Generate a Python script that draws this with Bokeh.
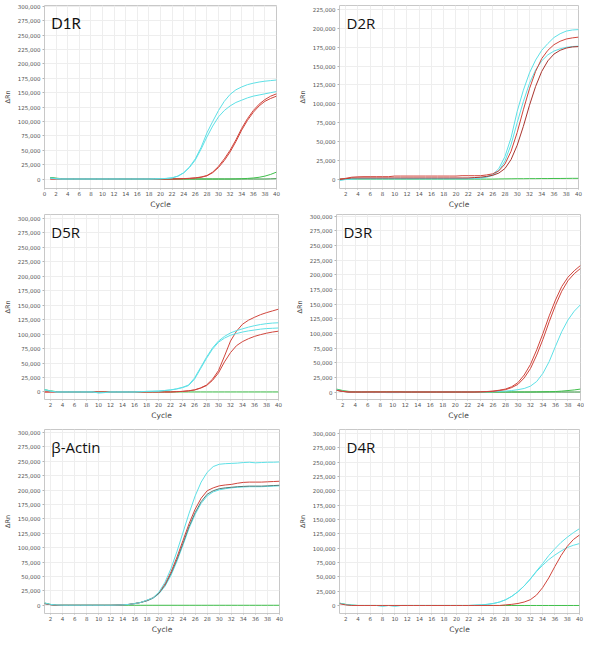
from bokeh.plotting import figure
from bokeh.layouts import column, row
from bokeh.models import Label, Range1d, FixedTicker, NumeralTickFormatter
from bokeh.embed import file_html
from bokeh.resources import INLINE

# ---------------- data ----------------
cycles = [1, 2, 3, 4, 5, 6, 7, 8, 9, 10, 11, 12, 13, 14, 15, 16, 17, 18, 19, 20,
          21, 22, 23, 24, 25, 26, 27, 28, 29, 30, 31, 32, 33, 34, 35, 36, 37, 38, 39, 40]

x_ticks_d1r = [0, 2, 4, 6, 8, 10, 12, 14, 16, 18, 20, 22, 24, 26, 28, 30, 32, 34, 36, 38, 40]
x_ticks = [2, 4, 6, 8, 10, 12, 14, 16, 18, 20, 22, 24, 26, 28, 30, 32, 34, 36, 38, 40]
y_ticks_300 = [0, 25000, 50000, 75000, 100000, 125000, 150000, 175000, 200000, 225000, 250000, 275000, 300000]
y_ticks_225 = [0, 25000, 50000, 75000, 100000, 125000, 150000, 175000, 200000, 225000]

# D1R
d1r_cyan_a = [1500, 500, 0, 0, 0, 0, 0, 0, 0, 0, 0, 0, 0, 0, 0, 0, 0, 0, 200, 500,
              1000, 2000, 5000, 11000, 21000, 35000, 55000, 80000, 100000, 119000,
              135000, 147000, 155000, 160000, 164000, 166500, 168500, 170000, 171000, 172000]
d1r_cyan_b = [1500, 500, 0, 0, 0, 0, 0, 0, 0, 0, 0, 0, 0, 0, 0, 0, 0, 0, 200, 500,
              1000, 2000, 5000, 10500, 20000, 33000, 52000, 73000, 92000, 108000,
              119000, 127000, 133000, 137000, 141000, 144000, 146000, 148000, 150000, 152000]
d1r_red_a = [0, 0, 0, 0, 0, 0, 0, 0, 0, 0, 0, 0, 0, 0, 0, 0, 0, 0, 0, 0,
             0, 0, 300, 700, 1200, 2000, 3500, 6000, 12000, 22000,
             35000, 50000, 68000, 88000, 105000, 119000, 130000, 138000, 144000, 148000]
d1r_red_b = [0, 0, 0, 0, 0, 0, 0, 0, 0, 0, 0, 0, 0, 0, 0, 0, 0, 0, 0, 0,
             0, 0, 300, 600, 1000, 1800, 3000, 5500, 11000, 20000,
             32000, 47000, 65000, 85000, 102000, 116000, 127000, 135000, 140000, 144000]
d1r_green_a = [2000, 1500, 500, 0, 300, 0, 0, 0, 0, 0, 0, 0, 0, 0, 0, 0, 0, 0, 0, 0,
               0, 0, 0, 0, 0, 0, 0, 0, 0, 0, 0, 0, 200, 500, 1000, 1800, 3000, 5000, 8000, 12000]
d1r_green_b = [2500, 1000, 0, 0, 0, 0, 0, 0, 0, 0, 0, 0, 0, 0, 0, 0, 0, 0, 0, 0,
               0, 0, 0, 0, 0, 0, 0, 0, 0, 0, 0, 0, 0, 0, 0, 0, 0, 0, 200, 500]

# D2R
d2r_cyan_a = [-1500, -500, 0, 500, 500, 500, 500, 500, 500, 500, 500, 500, 500, 500, 500, 500, 500, 500, 500, 500,
              500, 500, 800, 1500, 3000, 6000, 14000, 30000, 55000, 90000,
              118000, 141000, 158000, 171000, 180000, 188000, 193000, 196500, 198000, 198500]
d2r_cyan_b = [-1500, -500, 0, 500, 500, 500, 500, 500, 500, 500, 500, 500, 500, 500, 500, 500, 500, 500, 500, 500,
              500, 500, 800, 1200, 2500, 5000, 11000, 24000, 46000, 75000,
              103000, 127000, 145000, 157000, 165000, 170000, 173000, 175000, 176000, 176500]
d2r_red_a = [0, 1000, 2500, 3000, 3200, 3200, 3200, 3200, 3200, 4000, 4000, 4000, 4000, 4000, 4000, 4000, 4000, 4000, 4000, 4000,
             4500, 4500, 4500, 4500, 5500, 7000, 11000, 20000, 37000, 62000,
             92000, 120000, 143000, 160000, 171000, 178500, 183000, 186000, 187500, 188500]
d2r_red_b = [-500, 500, 1500, 1500, 1500, 1500, 1500, 1500, 1500, 1500, 1500, 1500, 1500, 1500, 1500, 1500, 1500, 1500, 1500, 1500,
             1500, 1500, 2000, 2500, 3500, 5000, 8000, 14000, 26000, 45000,
             70000, 98000, 123000, 143000, 157000, 166000, 171000, 174000, 175500, 176000]
d2r_green = [0, 0, 0, 0, 0, 0, 0, 0, 0, 0, 0, 0, 0, 0, 0, 0, 0, 0, 0, 0,
             0, 0, 0, 0, 0, 0, 200, 300, 400, 500, 500, 600, 600, 700, 700, 800, 800, 900, 1000, 1000]

# D5R
d5r_cyan_a = [4000, 1500, 0, 0, 0, 0, 0, 0, 0, -1500, -1000, 0, 0, 0, 0, 0, 500, 1000, 1200, 1500,
              2500, 3500, 5500, 8000, 12000, 24000, 42000, 60000, 76000, 88000,
              96000, 102000, 106000, 109000, 112000, 114500, 116500, 118000, 119000, 119500]
d5r_cyan_b = [4000, 1500, 0, 0, 0, 0, 0, 0, 0, -1500, -1000, 0, 0, 0, 0, 0, 500, 1000, 1200, 1500,
              2500, 3500, 5000, 7500, 11000, 22000, 40000, 58000, 74000, 86000,
              93000, 98000, 101000, 103500, 105500, 107000, 108500, 109500, 110000, 110500]
d5r_red_a = [0, 0, 0, 0, 0, 0, 0, 0, 0, 0, 0, 0, 0, 0, 0, 0, 0, 0, 0, 0,
             0, 0, 500, 1000, 2000, 3500, 7000, 12000, 22000, 37000,
             62000, 88000, 105000, 117000, 124000, 129000, 133500, 137000, 140000, 143000]
d5r_red_b = [0, 0, 0, 0, 0, 0, 0, 0, 0, 0, 0, 0, 0, 0, 0, 0, 0, 0, 0, 0,
             0, 0, 500, 1000, 2000, 3500, 6500, 11000, 20000, 33000,
             52000, 68000, 80000, 87000, 92000, 96000, 99000, 101500, 103500, 105000]
d5r_green = [4000, 2000, 500, 0, 0, 0, 0, 0, 0, 0, 0, 0, 0, 0, 0, 0, 0, 0, 0, 0,
             0, 0, 0, 0, 0, 0, 0, 0, 0, 0, 0, 0, 0, 0, 0, 0, 0, 0, 0, 0]

# D3R
d3r_red_a = [3000, 1000, 0, 0, 0, 0, 0, 0, 0, 0, 0, 0, 0, 0, 0, 0, 0, 0, 0, 0,
             0, 0, 0, 300, 800, 1500, 3000, 5000, 9000, 16000,
             29000, 47000, 72000, 100000, 130000, 157000, 180000, 196000, 207000, 216000]
d3r_red_b = [3000, 1000, 0, 0, 0, 0, 0, 0, 0, 0, 0, 0, 0, 0, 0, 0, 0, 0, 0, 0,
             0, 0, 0, 200, 600, 1200, 2500, 4000, 7500, 13000,
             24000, 40000, 63000, 90000, 120000, 148000, 172000, 190000, 202000, 211000]
d3r_cyan = [4000, 1500, 0, 0, 0, -500, -1000, -500, -1000, -1000, -1000, 0, 0, 0, 0, 0, 0, 0, 0, 0,
            0, 0, 0, 0, 200, 500, 1000, 1500, 2500, 4000,
            6000, 10000, 18000, 32000, 52000, 78000, 103000, 123000, 138000, 149000]
d3r_green_a = [5000, 2500, 1000, 500, 0, 0, 0, 0, 0, 0, 0, 0, 0, 0, 0, 0, 0, 0, 0, 0,
               0, 0, 0, 0, 0, 0, 0, 0, 0, 0, 0, 0, 200, 400, 600, 800, 1500, 2500, 3500, 5000]
d3r_green_b = [3000, 1000, 0, 0, 0, 0, 0, 0, 0, 0, 0, 0, 0, 0, 0, 0, 0, 0, 0, 0,
               0, 0, 0, 0, 0, 0, 0, 0, 0, 0, 0, 0, 0, 0, 0, 0, 0, 0, 0, 0]

# beta-Actin
act_cyan_a = [4000, 1500, 500, 0, 0, 0, 0, 0, 0, 0, 0, 0, 300, 800, 1500, 3000, 5000, 9000, 13000, 23000,
              40000, 64000, 94000, 127000, 160000, 190000, 214000, 231000, 241000, 245000,
              246000, 246500, 247000, 248000, 248500, 247500, 248000, 248500, 248500, 249000]
act_red = [3000, 1000, 0, 0, 0, 0, 0, 0, 0, 0, 0, 0, 300, 800, 1500, 3000, 5000, 8500, 13000, 22000,
           37000, 58000, 84000, 113000, 142000, 167000, 186000, 199000, 204000, 207500,
           209000, 210000, 212000, 213500, 214000, 214000, 214000, 214500, 215000, 215500]
act_dark = [3000, 1000, 0, 0, 0, 0, 0, 0, 0, 0, 0, 0, 300, 800, 1500, 3000, 5000, 8000, 12500, 21000,
            35000, 55000, 80000, 108000, 137000, 161000, 180000, 193000, 199000, 202500,
            204000, 205000, 206000, 206500, 207000, 207000, 207000, 207500, 208000, 208500]
act_cyan_b = [3000, 1000, 0, 0, 0, 0, 0, 0, 0, 0, 0, 0, 300, 800, 1500, 3000, 5000, 7500, 12000, 20000,
              33000, 52000, 77000, 105000, 134000, 158000, 177000, 190000, 197000, 200500,
              202500, 204000, 205000, 205500, 206000, 206000, 206000, 206500, 207000, 207500]
act_green = [4000, 1500, 0, 0, 0, 0, 0, 0, 0, 0, 0, 0, 0, 0, 0, 0, 0, 0, 0, 0,
             0, 0, 0, 0, 0, 0, 0, 0, 0, 0, 0, 0, 0, 0, 0, 0, 0, 0, 0, 0]

# D4R
d4r_cyan_a = [4000, 1500, 500, 0, 0, 0, 0, -1000, 0, -1000, 0, 0, 0, 0, 0, 0, 0, 0, 0, 0,
              0, 0, 500, 1000, 2000, 3500, 6000, 10000, 16000, 24000,
              34000, 46000, 60000, 73000, 87000, 99000, 110000, 119000, 127000, 134000]
d4r_cyan_b = [4000, 1500, 500, 0, 0, 0, 0, -1000, 0, -1000, 0, 0, 0, 0, 0, 0, 0, 0, 0, 0,
              0, 0, 500, 1000, 2000, 3500, 6000, 10000, 16000, 24000,
              34000, 46000, 59000, 70000, 80000, 88000, 95000, 101000, 105000, 108000]
d4r_red = [3000, 1000, 0, 0, 0, 0, 0, 0, 0, 0, 0, 0, 0, 0, 0, 0, 0, 0, 0, 0,
           0, 0, 0, 0, 0, 0, 0, 1000, 2000, 3500,
           6000, 10000, 18000, 31000, 48000, 68000, 87000, 103000, 115000, 123000]
d4r_green = [4000, 2000, 500, 0, 0, 0, 0, 0, 0, 0, 0, 0, 0, 0, 0, 0, 0, 0, 0, 0,
             0, 0, 0, 0, 0, 0, 0, 0, 0, 0, 0, 0, 0, 0, 0, 0, 0, 0, 0, 0]

# ---------------- styles ----------------
CYAN = "#5ee0e6"
RED = "#d0453c"
DRED = "#a8342e"
GREEN = "#3fbf4a"
DGREEN = "#2e8f3a"
DARK = "#557a76"

panels = [
    dict(title="D1R", font="Lato", x0=0, xt=x_ticks_d1r, yr=(-16500, 301500), yt=y_ticks_300,
         b=(38, 16, 5, 10), h=211,
         curves=[(d1r_green_b, DGREEN), (d1r_green_a, GREEN), (d1r_red_b, RED), (d1r_red_a, RED),
                 (d1r_cyan_b, CYAN), (d1r_cyan_a, CYAN)]),
    dict(title="D2R", font="Open Sans", x0=1, xt=x_ticks, yr=(-12500, 230500), yt=y_ticks_225,
         b=(47, 6, 4, 10), h=211,
         curves=[(d2r_green, GREEN), (d2r_cyan_b, CYAN), (d2r_cyan_a, CYAN),
                 (d2r_red_b, DRED), (d2r_red_a, RED)]),
    dict(title="D5R", font="Open Sans", x0=1, xt=x_ticks, yr=(-13000, 306500), yt=y_ticks_300,
         b=(38, 14, 3, 10), h=211,
         curves=[(d5r_green, GREEN), (d5r_red_b, RED), (d5r_red_a, RED),
                 (d5r_cyan_b, CYAN), (d5r_cyan_a, CYAN)]),
    dict(title="D3R", font="Open Sans", x0=1, xt=x_ticks, yr=(-12800, 303000), yt=y_ticks_300,
         b=(41, 4, 3, 10), h=211,
         curves=[(d3r_green_b, DGREEN), (d3r_green_a, GREEN), (d3r_cyan, CYAN),
                 (d3r_red_b, RED), (d3r_red_a, RED)]),
    dict(title="β-Actin", font="Open Sans", x0=1, xt=x_ticks, yr=(-14300, 305400), yt=y_ticks_300,
         b=(38, 13, 7, 10), h=214,
         curves=[(act_green, GREEN), (act_cyan_b, CYAN), (act_dark, DARK), (act_red, RED),
                 (act_cyan_a, CYAN)]),
    dict(title="D4R", font="Open Sans", x0=1, xt=x_ticks, yr=(-14000, 307000), yt=y_ticks_300,
         b=(47, 5, 5, 10), h=214,
         curves=[(d4r_green, GREEN), (d4r_cyan_b, CYAN), (d4r_cyan_a, CYAN), (d4r_red, RED)]),
]

W = 292
figs = []
for pn in panels:
    bl, br, bt, bb = pn["b"]
    H = pn["h"]
    p = figure(width=W, height=H, output_backend="svg", toolbar_location=None,
               x_range=Range1d(pn["x0"], 40), y_range=Range1d(*pn["yr"]),
               min_border_left=bl, min_border_right=br, min_border_top=bt, min_border_bottom=bb,
               background_fill_color="white", border_fill_color="white")
    p.outline_line_color = "#c8c8c8"
    p.outline_line_width = 1
    for ax in (p.xaxis[0], p.yaxis[0]):
        ax.axis_line_color = None
        ax.major_tick_line_color = "#b4b4b4"
        ax.major_tick_in = 0
        ax.minor_tick_line_color = None
        ax.major_label_text_font = "DejaVu Sans"
        ax.major_label_text_font_size = "5.5px"
        ax.major_label_text_color = "#555555"
        ax.axis_label_text_font = "DejaVu Sans"
        ax.axis_label_text_font_style = "normal"
        ax.axis_label_text_color = "#444444"
    p.xaxis.major_tick_out = 1
    p.xaxis.major_label_standoff = 1
    p.xaxis.axis_label_standoff = 1
    p.yaxis.major_tick_out = 2
    p.yaxis.major_label_standoff = 2
    p.yaxis.axis_label_standoff = 3
    p.xaxis.ticker = FixedTicker(ticks=pn["xt"])
    p.yaxis.ticker = FixedTicker(ticks=pn["yt"])
    p.yaxis.formatter = NumeralTickFormatter(format="0,0")
    p.xaxis.axis_label = "Cycle"
    p.xaxis.axis_label_text_font_size = "7.5px"
    p.yaxis.axis_label = "ΔRn"
    p.yaxis.axis_label_text_font_size = "6.5px"
    p.xgrid.grid_line_color = "#eeeeee"
    p.ygrid.grid_line_color = "#eeeeee"
    p.xgrid.ticker = FixedTicker(ticks=pn["xt"])
    p.ygrid.ticker = FixedTicker(ticks=pn["yt"])

    for vals, col in pn["curves"]:
        p.line(cycles, vals, line_color=col, line_width=1.0)

    # title label placed inside the frame (offset from the top-left corner)
    fw = W - bl - br
    fh = H - bt - 19
    x0, x1 = pn["x0"], 40
    y0, y1 = pn["yr"]
    lx = x0 + 7.0 / fw * (x1 - x0)
    ly = y1 - 18.0 / fh * (y1 - y0)
    p.add_layout(Label(x=lx, y=ly, text=pn["title"], text_font=pn["font"],
                       text_font_size="15px", text_color="#111111",
                       text_baseline="alphabetic", text_align="left"))
    figs.append(p)

layout = column(row(figs[0], figs[1]), row(figs[2], figs[3]), row(figs[4], figs[5]))

open("out.html", "w").write(file_html(layout, INLINE))
